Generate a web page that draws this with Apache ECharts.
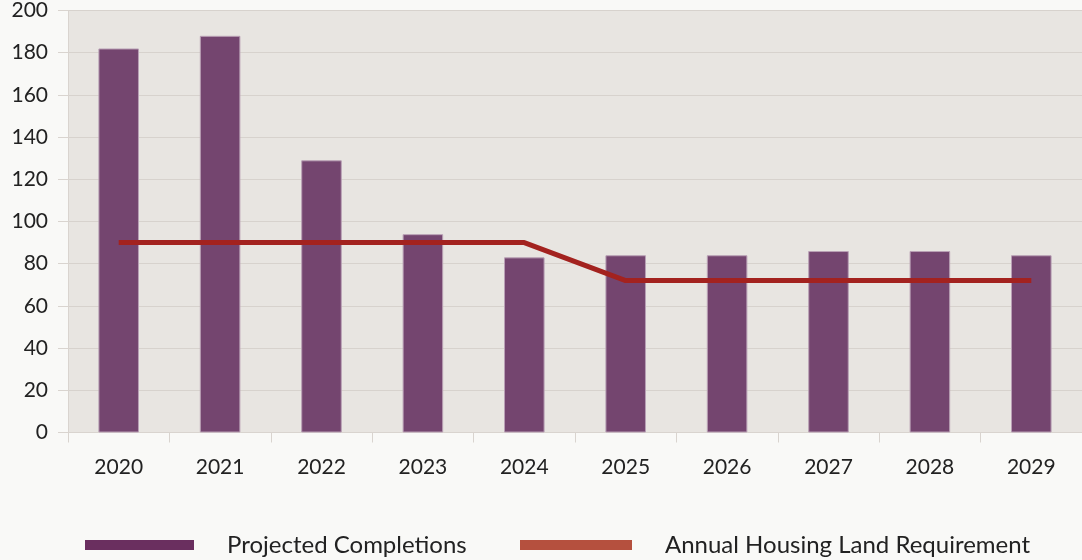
<!DOCTYPE html>
<html>
<head>
<meta charset="utf-8">
<script src="https://cdn.jsdelivr.net/npm/echarts@6/dist/echarts.min.js"></script>
<style>
html,body{margin:0;padding:0;background:#f9f9f7;}
#chart{width:1082px;height:560px;}
</style>
</head>
<body>
<div id="chart"></div>
<script>
const years = ['2020','2021','2022','2023','2024','2025','2026','2027','2028','2029'];
const completions = [182, 188, 129, 94, 83, 84, 84, 86, 86, 84];
const requirement = [90, 90, 90, 90, 90, 72, 72, 72, 72, 72];
const yTicks = { min: 0, max: 200, interval: 20 };

const FONT = 'Lato';
const chart = echarts.init(document.getElementById('chart'));
chart.setOption({
  backgroundColor: '#f9f9f7',
  animation: false,
  grid: { left: 68, right: 0, top: 7.5, bottom: 127.5, show: true, backgroundColor: '#e8e5e1', borderWidth: 0 },
  legend: [
    {
      data: [{ name: 'Projected Completions', icon: 'rect', itemStyle: { color: '#6a2f5f', borderWidth: 0 } }],
      left: 80, top: 528, itemWidth: 109, itemHeight: 10,
      textStyle: { fontFamily: FONT, fontSize: 24, color: '#222', padding: [0, 0, 0, 28] }
    },
    {
      data: [{ name: 'Annual Housing Land Requirement', icon: 'rect', itemStyle: { color: '#b5503e', borderWidth: 0 } }],
      left: 515, top: 528, itemWidth: 112, itemHeight: 10,
      textStyle: { fontFamily: FONT, fontSize: 24, color: '#222', padding: [0, 0, 0, 28] }
    }
  ],
  xAxis: {
    type: 'category',
    data: years,
    boundaryGap: true,
    axisLine: { show: true, lineStyle: { color: '#d9d4cf', width: 1 } },
    axisTick: { show: true, alignWithLabel: false, length: 10, lineStyle: { color: '#d9d4cf' } },
    axisLabel: { fontFamily: FONT, fontSize: 21, color: '#222', margin: 24 },
    splitLine: { show: false }
  },
  yAxis: {
    type: 'value',
    min: yTicks.min, max: yTicks.max, interval: yTicks.interval,
    axisLine: { show: true, lineStyle: { color: '#d9d4cf', width: 1 } },
    axisTick: { show: true, length: 10, lineStyle: { color: '#d9d4cf' } },
    axisLabel: { fontFamily: FONT, fontSize: 21, color: '#222', margin: 20 },
    splitLine: { show: true, lineStyle: { color: '#d7d2cd', width: 1 } }
  },
  series: [
    {
      name: 'Projected Completions',
      type: 'bar',
      data: completions,
      barWidth: '40%',
      itemStyle: { color: '#74456f', borderColor: '#b9a0b5', borderWidth: 1 }
    },
    {
      name: 'Annual Housing Land Requirement',
      type: 'line',
      data: requirement,
      symbol: 'none',
      lineStyle: { color: '#a3221f', width: 5 },
      itemStyle: { color: '#a3221f' }
    }
  ]
});
</script>
</body>
</html>
